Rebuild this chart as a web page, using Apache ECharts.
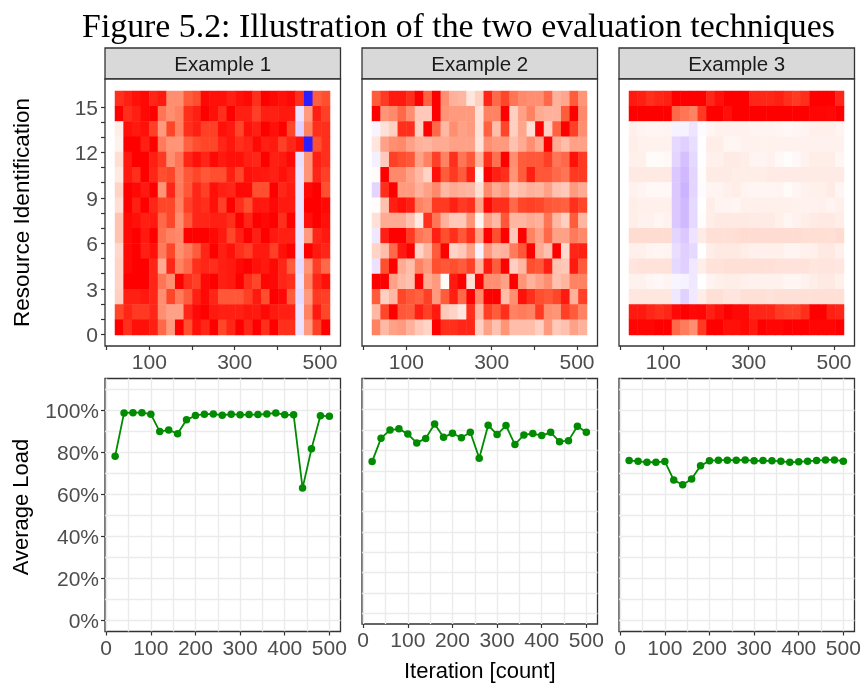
<!DOCTYPE html>
<html><head><meta charset="utf-8">
<style>html,body{margin:0;padding:0;background:#fff}#c{width:864px;height:684px}</style>
<script src="https://cdn.jsdelivr.net/npm/echarts@6/dist/echarts.min.js"></script>
</head><body><div id="c"></div>
<script>
const iterations=[20,40,60,80,100,120,140,160,180,200,220,240,260,280,300,320,340,360,380,400,420,440,460,480,500];
const resources=[0,1,2,3,4,5,6,7,8,9,10,11,12,13,14,15];
const panelNames=['Example 1','Example 2','Example 3'];
const load1=[78.3,98.9,99,99,98.3,90,90.8,89,95.6,97.7,98.3,98.4,97.8,98.3,98,98.1,98.1,98.4,98.9,98,98,63.1,81.8,97.6,97.3];
const load2=[74.5,86,90,90.6,88,83.7,85.9,93,86.5,88.4,86.2,88.9,76.2,92.4,87.8,92.2,82.9,87.6,88.3,87.3,88.9,84.3,84.8,91.9,88.9];
const load3=[76.2,75.9,75.4,75.4,75.8,66.9,64.7,67.4,73.7,76.1,76.4,76.4,76.4,76.5,76.1,76.2,76.1,75.9,75.4,75.6,75.9,76.2,76.5,76.5,75.9];
// rows listed from resource 15 (top) down to resource 0
const heat1=[
[85,90,95,97,88,92,50,50,70,75,97,95,95,90,95,97,85,100,97,95,97,85,-90,70,75],
[100,85,90,97,100,60,50,55,85,90,100,95,85,100,90,90,80,90,90,92,92,-15,45,90,80],
[8,95,92,95,80,45,78,55,85,90,80,80,95,92,78,95,90,100,95,100,78,-25,55,85,85],
[6,100,100,90,100,58,48,47,68,75,78,78,88,93,85,88,97,90,92,80,88,95,-90,75,85],
[15,92,100,100,90,82,50,60,88,95,88,97,92,95,95,90,88,100,90,92,97,-17,48,90,85],
[10,92,85,100,88,75,78,57,72,78,72,75,75,90,78,95,93,92,90,95,90,-15,48,88,80],
[20,100,97,92,100,48,88,58,72,88,80,95,90,88,97,97,75,75,100,88,92,-15,97,100,75],
[15,100,90,100,88,78,78,55,80,88,85,95,80,100,85,75,93,92,97,92,92,-15,100,100,97],
[27,97,95,90,92,65,78,50,72,88,88,90,90,85,100,88,100,97,100,85,100,-15,95,100,95],
[27,97,100,92,100,62,55,52,100,100,100,97,92,78,90,100,90,100,92,90,90,-15,45,88,92],
[18,97,100,90,95,58,78,50,58,70,88,100,90,95,85,80,92,92,80,95,100,-15,100,92,88],
[20,97,100,100,88,38,88,55,65,85,88,85,90,92,97,100,95,92,97,88,70,-20,48,80,65],
[20,100,100,100,88,60,50,100,85,80,97,100,90,92,100,85,78,98,97,88,85,-15,55,88,95],
[22,90,90,92,88,50,78,58,70,90,97,88,72,72,72,80,92,75,100,97,70,-20,45,82,80],
[78,88,82,82,88,50,42,42,88,97,100,92,90,90,90,93,92,97,92,90,90,-15,55,92,78],
[100,85,95,95,90,65,45,100,75,95,88,100,78,88,100,88,100,85,100,85,85,-15,45,80,100]];
const heat2=[
[70,82,92,92,85,100,68,100,50,35,33,12,22,88,65,78,60,52,50,50,65,35,40,70,48],
[100,48,52,65,50,25,25,100,48,45,45,45,14,55,55,100,22,42,55,38,35,35,70,100,52],
[-6,14,22,85,85,22,100,65,32,50,42,45,14,68,30,78,22,40,15,100,22,68,100,80,50],
[12,42,50,52,42,35,33,38,38,42,42,42,13,50,45,45,28,38,50,38,100,38,30,42,42],
[-8,24,80,75,72,42,55,80,55,85,60,72,33,85,62,100,50,70,72,72,80,60,65,95,82],
[2,100,52,52,42,32,20,95,70,82,70,90,4,100,90,85,48,70,90,72,72,65,60,82,82],
[-22,85,100,45,45,35,42,52,32,38,35,33,15,52,38,45,25,30,35,33,42,28,25,45,38],
[1,28,90,95,90,55,50,82,82,90,82,85,42,97,85,85,65,78,80,78,72,70,68,85,78],
[14,38,38,38,28,10,85,60,35,25,25,48,5,42,32,72,33,33,38,35,60,32,22,70,33],
[-12,90,100,100,82,60,55,90,75,85,72,85,42,100,75,100,25,100,55,42,65,42,42,58,52],
[20,30,65,92,100,20,33,70,100,20,25,42,-7,45,32,35,58,72,100,38,28,100,17,88,90],
[-15,75,100,38,30,55,45,75,72,75,70,80,35,92,70,100,22,32,75,72,90,27,25,92,70],
[100,100,42,32,28,100,38,45,2,92,100,15,100,50,50,42,100,48,35,42,50,28,33,55,55],
[70,22,32,78,72,68,80,45,70,90,65,100,52,100,100,30,50,95,85,75,72,78,92,35,80],
[32,78,100,72,70,90,80,92,25,20,11,85,32,80,70,85,55,58,55,82,50,48,80,70,55],
[55,32,42,45,35,25,20,100,85,85,88,88,22,42,28,48,30,30,30,22,45,25,28,42,35]];
const heat3=[
[92,90,85,88,90,100,100,100,100,88,95,100,100,100,88,88,88,90,85,82,85,100,100,100,88],
[100,100,100,100,100,65,60,55,82,100,100,95,100,100,100,100,100,100,100,100,100,98,98,97,100],
[7,5,4,4,5,-7,-7,-14,-2,4,6,6,6,6,5,5,5,4,3,4,5,7,7,7,5],
[8,6,6,6,6,-20,-25,-17,-1,8,8,4,4,6,6,6,6,6,6,6,6,6,6,6,6],
[7,7,2,2,3,-22,-32,-20,-1,7,7,9,9,8,5,5,6,3,1,3,6,8,8,8,4],
[10,10,10,10,10,-28,-35,-22,1,9,9,9,8,8,8,8,9,9,9,9,9,9,9,9,9],
[6,5,3,3,3,-28,-38,-22,-2,5,5,7,8,5,4,4,4,5,2,4,6,7,7,9,4],
[8,7,7,7,7,-28,-35,-20,0,8,5,5,4,7,7,7,7,7,7,6,6,6,7,5,7],
[8,6,6,4,6,-28,-35,-20,1,8,10,10,10,10,9,9,9,7,4,6,8,9,10,10,8],
[16,16,16,16,16,-22,-28,-14,9,14,14,14,15,16,16,16,16,16,16,16,15,15,15,14,16],
[7,7,5,4,5,-17,-25,-20,0,8,10,10,10,8,7,7,7,7,5,5,6,7,10,10,7],
[12,13,13,13,13,-20,-25,-12,8,13,13,14,14,14,14,14,14,13,13,13,13,11,12,12,11],
[6,6,4,3,5,-5,-7,-12,0,5,7,8,8,7,6,6,6,6,4,4,6,8,10,10,7],
[11,11,11,11,11,-12,-24,-11,8,14,14,12,12,14,14,14,13,14,14,14,14,14,14,14,14],
[92,92,88,85,88,97,100,97,98,90,95,100,97,97,88,88,88,82,80,80,85,100,100,90,88],
[98,98,98,100,100,65,58,50,82,100,100,95,95,97,92,100,98,98,100,100,100,98,98,98,100]];
const xTopTicks=[0,100,200,300,400,500];
const xTopLabels=[100,300,500];
const yTopTicks=[0,1,2,3,4,5,6,7,8,9,10,11,12,13,14,15];
const yTopLabels=[0,3,6,9,12,15];
const xBottomTicks=[0,100,200,300,400,500];
const xBottomMinor=[50,150,250,350,450];
const yBottomTicks=[0,20,40,60,80,100];
const yBottomMinor=[10,30,50,70,90,110];

const heats=[heat1,heat2,heat3], loads=[load1,load2,load3];
const lefts=[105,362,619], panelW=235.5;
const INK='#4d4d4d', EDGE='#333333', FONT='"Liberation Sans",Arial,sans-serif';
const grids=[],xAxes=[],yAxes=[],series=[],titles=[];
const noLine={show:false,onZero:false};
const yLabelRich={a:{padding:[4,0,0,0],fontFamily:FONT,fontSize:21,color:INK}};
titles.push({text:'Figure 5.2: Illustration of the two evaluation techniques',left:458.5,top:11,textAlign:'center',padding:0,
  textStyle:{fontFamily:'"Liberation Serif","Times New Roman",serif',fontSize:33.8,fontWeight:'normal',color:'#000'}});
function axisCommon(){return {axisLine:noLine,nameTextStyle:{fontFamily:FONT,fontSize:22,color:'#000'}};}
lefts.forEach((L,p)=>{
  titles.push({text:panelNames[p],left:L+panelW/2,top:54.5,textAlign:'center',padding:0,
    textStyle:{fontFamily:FONT,fontSize:20.5,fontWeight:'normal',color:'#1a1a1a'}});
  // strip
  grids.push({left:L,top:48,width:panelW,height:31,show:true,backgroundColor:'#d9d9d9',borderColor:EDGE,borderWidth:1.3});
  // top panel frame and axes
  const gTop=grids.length;
  grids.push({left:L,top:79,width:panelW,height:267,show:true,backgroundColor:'#fff',borderColor:EDGE,borderWidth:1.3});
  xAxes.push({...axisCommon(),gridIndex:gTop,type:'value',min:-4,max:548,splitLine:{show:false},
    axisTick:{customValues:xTopTicks,length:4,lineStyle:{color:EDGE,width:1.2}},
    axisLabel:{customValues:xTopLabels,margin:7,fontFamily:FONT,fontSize:21,color:INK,hideOverlap:false,showMinLabel:true,showMaxLabel:true}});
  yAxes.push(p===0?{...axisCommon(),gridIndex:gTop,type:'value',min:-0.77,max:16.83,splitLine:{show:false},
    name:'Resource Identification',nameTextStyle:{fontFamily:FONT,fontSize:22.5,color:'#000'},nameLocation:'middle',nameGap:71,nameRotate:90,
    axisTick:{customValues:yTopTicks,length:4,lineStyle:{color:EDGE,width:1.2}},
    axisLabel:{customValues:yTopLabels,margin:7,fontFamily:FONT,fontSize:21,color:INK,formatter:v=>`{a|${v}}`,rich:yLabelRich}}
    :{gridIndex:gTop,type:'value',min:-0.77,max:16.83,show:false,axisLine:noLine,splitLine:{show:false}});
  // heat cells
  const gHeat=grids.length;
  grids.push({left:L+10,top:91,width:215,height:244,show:false});
  const ix=xAxes.length;
  xAxes.push({gridIndex:gHeat,type:'category',data:iterations,show:false});
  yAxes.push({gridIndex:gHeat,type:'category',data:resources,show:false});
  const d=[];
  heats[p].forEach((row,r)=>row.forEach((v,c)=>d.push([c,15-r,v])));
  series.push({type:'heatmap',xAxisIndex:ix,yAxisIndex:ix,data:d,silent:true,progressive:0,animation:false,
    itemStyle:{borderWidth:0}});
  // bottom panel
  const gBot=grids.length;
  grids.push({left:L,top:378.5,width:panelW,height:253,show:true,backgroundColor:'#fff',borderColor:EDGE,borderWidth:1.3});
  const grid92={show:true,lineStyle:{color:'#ebebeb',width:1.4,type:'solid'}};
  const ib=xAxes.length;
  xAxes.push({...axisCommon(),gridIndex:gBot,type:'value',min:-2.7,max:525,splitLine:grid92,
    name:p===1?'Iteration [count]':'',nameLocation:'middle',nameGap:37,
    axisTick:{customValues:xBottomTicks,length:4,lineStyle:{color:EDGE,width:1.2}},
    axisLabel:{customValues:xBottomTicks,margin:7,fontFamily:FONT,fontSize:21,color:INK}});
  yAxes.push(p===0?{...axisCommon(),gridIndex:gBot,type:'value',min:-5.2,max:115.3,splitLine:grid92,
    name:'Average Load',nameTextStyle:{fontFamily:FONT,fontSize:22,color:'#000',padding:[0,4,0,0]},nameLocation:'middle',nameGap:72,nameRotate:90,
    axisTick:{customValues:yBottomTicks,length:4,lineStyle:{color:EDGE,width:1.2}},
    axisLabel:{customValues:yBottomTicks,margin:6,fontFamily:FONT,fontSize:21,color:INK,formatter:v=>`{a|${v}%}`,rich:yLabelRich}}
    :{gridIndex:gBot,type:'value',min:-5.2,max:115.3,axisLine:noLine,axisLabel:{show:false},
    axisTick:{show:false,customValues:yBottomTicks},splitLine:grid92});
  xAxes.push({gridIndex:gBot,type:'value',min:-2.7,max:525,axisLine:noLine,axisLabel:{show:false},
    axisTick:{show:false,customValues:xBottomMinor},splitLine:grid92});
  yAxes.push({gridIndex:gBot,type:'value',min:-5.2,max:115.3,axisLine:noLine,axisLabel:{show:false},
    axisTick:{show:false,customValues:yBottomMinor},splitLine:grid92});
  series.push({type:'line',xAxisIndex:ib,yAxisIndex:ib,data:iterations.map((x,i)=>[x,loads[p][i]]),
    symbol:'circle',symbolSize:7.5,showSymbol:true,animation:false,silent:true,clip:false,
    lineStyle:{color:'#008b00',width:1.8},itemStyle:{color:'#008b00'}});
});
const chart=echarts.init(document.getElementById('c'),null,{renderer:'canvas'});
chart.setOption({
  backgroundColor:'#fff',animation:false,title:titles,grid:grids,xAxis:xAxes,yAxis:yAxes,series,
  visualMap:{show:false,type:'continuous',min:-100,max:100,seriesIndex:[0,2,4],dimension:2,
    inRange:{color:['#0000ff','#6f4bff','#bb97ff','#e0cfff','#ffffff','#ffc8b8','#ff8f70','#ff4f2f','#ff0000']}}
});
</script></body></html>
